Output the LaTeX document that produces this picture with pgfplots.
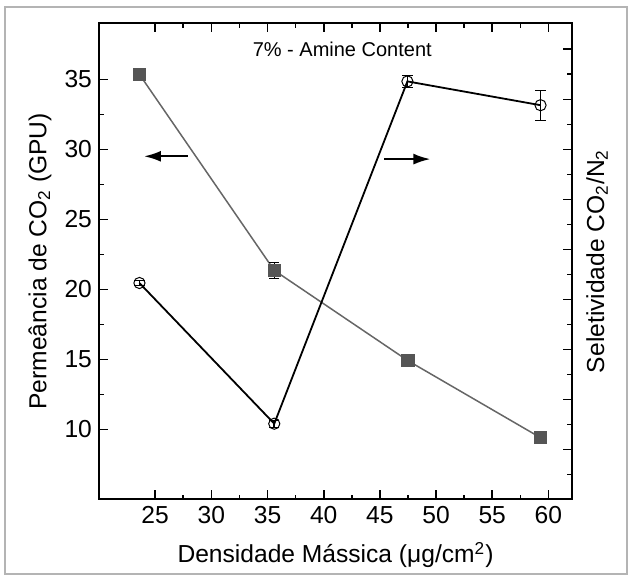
\documentclass[border=0pt]{standalone}
\usepackage{fontspec}
\setmainfont{Liberation Sans}
\usepackage{pgfplots}
\pgfplotsset{compat=1.18}
\usetikzlibrary{arrows.meta}
\definecolor{sqgray}{HTML}{555555}
\definecolor{lngray}{HTML}{666666}
\definecolor{framegray}{HTML}{B4B4B4}

\pgfplotsset{every axis/.append style={
  width=236.5pt, height=238pt, scale only axis,
  at={(0,0)}, anchor=south west,
  xmin=20, xmax=62.1,
  axis line style={line width=1pt},
  tick style={black, line width=0.8pt},
  major tick length=4.5pt, minor tick length=2.4pt, tick align=inside,
  font=\fontsize{12.3}{14}\selectfont,
  /pgf/number format/assume math mode=true,
}}

\begin{document}
\begin{tikzpicture}
\useasboundingbox (-49.5pt,-39.85pt) rectangle (266.5pt,249.65pt);
\draw[framegray, line width=0.6pt] (-47pt,-37.35pt) rectangle (264pt,246.15pt);

\begin{axis}[
  ymin=5, ymax=39,
  xtick={25,30,...,60}, minor x tick num=1,
  ytick={10,15,...,35}, minor y tick num=1,
  xtick pos=both, ytick pos=left,
  xlabel={Densidade Mássica (μg/cm\textsuperscript{2})},
  ylabel={Permeância de CO\textsubscript{2} (GPU)},
  xlabel style={at={(axis description cs:0.5,-0.117)}, anchor=center},
  ylabel style={at={(axis description cs:-0.125,0.5)}, anchor=center},
]
% permeance (gray squares)
\addplot[lngray, line width=0.75pt, mark=square*, mark size=2.9pt,
  mark options={fill=sqgray, draw=sqgray},
  error bars/.cd, y dir=both, y explicit,
  error bar style={black, line width=0.7pt},
  error mark options={rotate=90, mark size=2.5pt, black}]
  coordinates {(23.6,35.35) +- (0,0.15) (35.6,21.35) +- (0,0.55) (47.5,14.9) +- (0,0.15) (59.3,9.4) +- (0,0.1)};
% selectivity (open circles), drawn in left-axis units
\addplot[black, line width=0.9pt, mark=o, mark size=2.8pt,
  mark options={line width=0.5pt},
  error bars/.cd, y dir=both, y explicit,
  error bar style={black, line width=0.8pt},
  error mark options={rotate=90, mark size=2.6pt, black}]
  coordinates {(23.6,20.45) +- (0,0.2) (35.6,10.4) +- (0,0.25) (47.45,34.85) +- (0,0.45) (59.3,33.15) +- (0,1.08)};
\draw[black, line width=1.1pt, -{Latex[length=8.5pt,width=5.5pt]}] (axis cs:27.9,29.5) -- (axis cs:24.0,29.5);
\draw[black, line width=1.1pt, -{Latex[length=8.5pt,width=5.5pt]}] (axis cs:45.4,29.3) -- (axis cs:49.5,29.3);
\node[font=\fontsize{10}{12}\selectfont] at (axis cs:41.65,37.16) {7\% - Amine Content};
\end{axis}

\begin{axis}[
  axis x line=none, axis y line*=right,
  ymin=0, ymax=9.52,
  ytick={0,...,9}, minor y tick num=1,
  yticklabels={},
  ylabel={Seletividade CO\textsubscript{2}/N\textsubscript{2}},
  ylabel style={at={(axis description cs:1.053,0.5)}, anchor=center, rotate=0},
]
\end{axis}
\end{tikzpicture}
\end{document}
